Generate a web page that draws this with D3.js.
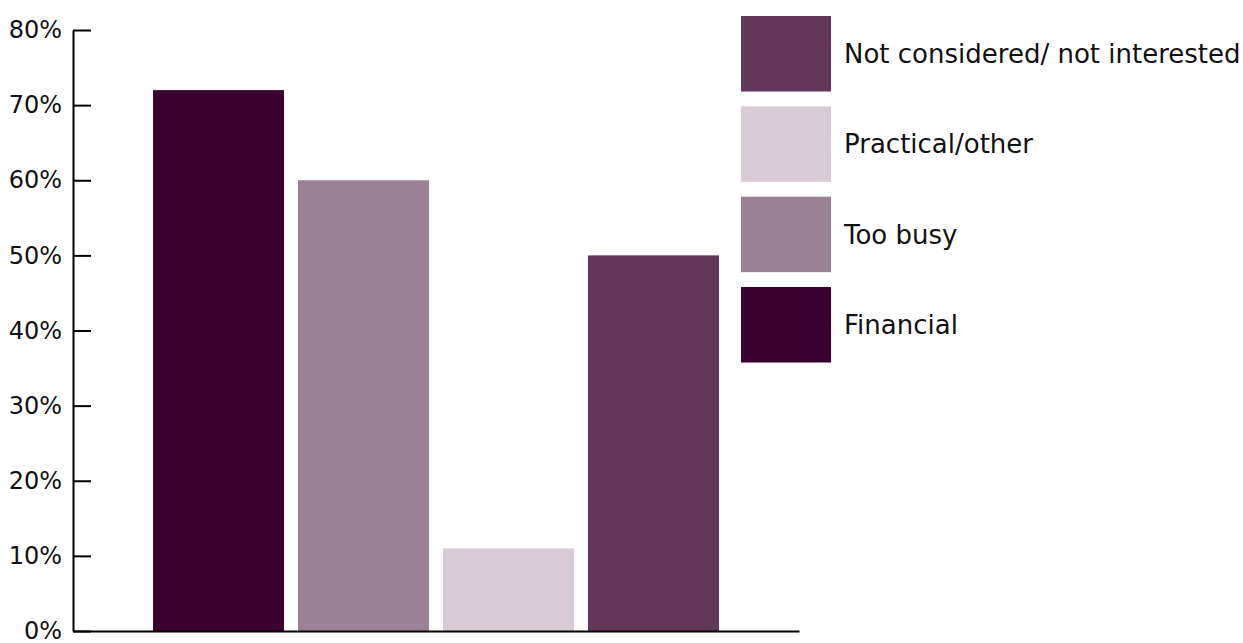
<!DOCTYPE html>
<html>
<head>
<meta charset="utf-8">
<script src="https://cdn.jsdelivr.net/npm/d3@7"></script>
<style>
  html, body { margin: 0; padding: 0; background: #fff; }
  svg { display: block; }
  text { font-family: "DejaVu Sans", sans-serif; fill: #111; }
</style>
</head>
<body>
<svg id="chart" width="1243" height="643"></svg>
<script>
// Reasons given (share of respondents)
const categories = ["Financial", "Too busy", "Practical/other", "Not considered/ not interested"];
const values = [0.72, 0.60, 0.11, 0.50];
const colors = ["#3b0030", "#9c8196", "#d8cbd6", "#62355b"];
const legendOrder = ["Not considered/ not interested", "Practical/other", "Too busy", "Financial"];
const yTicks = [0, 0.1, 0.2, 0.3, 0.4, 0.5, 0.6, 0.7, 0.8];

const svg = d3.select("#chart");

const plot = { left: 73, right: 799, top: 30, bottom: 631 };

const x = d3.scaleBand()
  .domain(categories)
  .range([plot.left, plot.right])
  .paddingInner(0.0966)
  .paddingOuter(0.552);

const y = d3.scaleLinear()
  .domain([0, 0.8])
  .range([plot.bottom, plot.top]);

const color = d3.scaleOrdinal().domain(categories).range(colors);

// Bars
svg.append("g")
  .selectAll("rect")
  .data(categories)
  .join("rect")
  .attr("x", d => x(d))
  .attr("width", x.bandwidth())
  .attr("y", (d, i) => y(values[i]))
  .attr("height", (d, i) => y(0) - y(values[i]))
  .attr("fill", d => color(d));

// Y axis with ticks pointing inward
const yAxis = svg.append("g")
  .attr("transform", `translate(${plot.left},0)`)
  .call(d3.axisLeft(y)
    .tickValues(yTicks)
    .tickFormat(d3.format(".0%"))
    .tickSizeInner(-18)
    .tickSizeOuter(0)
    .tickPadding(11));
yAxis.selectAll("path, line").attr("stroke", "#000").attr("stroke-width", 2);
yAxis.selectAll("text")
  .attr("font-size", 24)
  .attr("font-family", "DejaVu Sans, sans-serif")
  .attr("fill", "#111");

// X axis baseline
const xAxis = svg.append("g")
  .attr("transform", `translate(0,${plot.bottom})`)
  .call(d3.axisBottom(x).tickValues([]).tickSizeOuter(0));
xAxis.selectAll("path").attr("stroke", "#000").attr("stroke-width", 2);

// Legend
const legend = svg.append("g");
const legendY = d3.scaleBand()
  .domain(legendOrder)
  .range([16, 362.5])
  .paddingInner(0.164)
  .paddingOuter(0);

const item = legend.selectAll("g")
  .data(legendOrder)
  .join("g")
  .attr("transform", d => `translate(741,${legendY(d)})`);

item.append("rect")
  .attr("width", 90)
  .attr("height", legendY.bandwidth())
  .attr("fill", d => color(d));

item.append("text")
  .attr("x", 103)
  .attr("y", legendY.bandwidth() / 2)
  .attr("dy", "0.35em")
  .attr("font-size", 26)
  .text(d => d);
</script>
</body>
</html>
